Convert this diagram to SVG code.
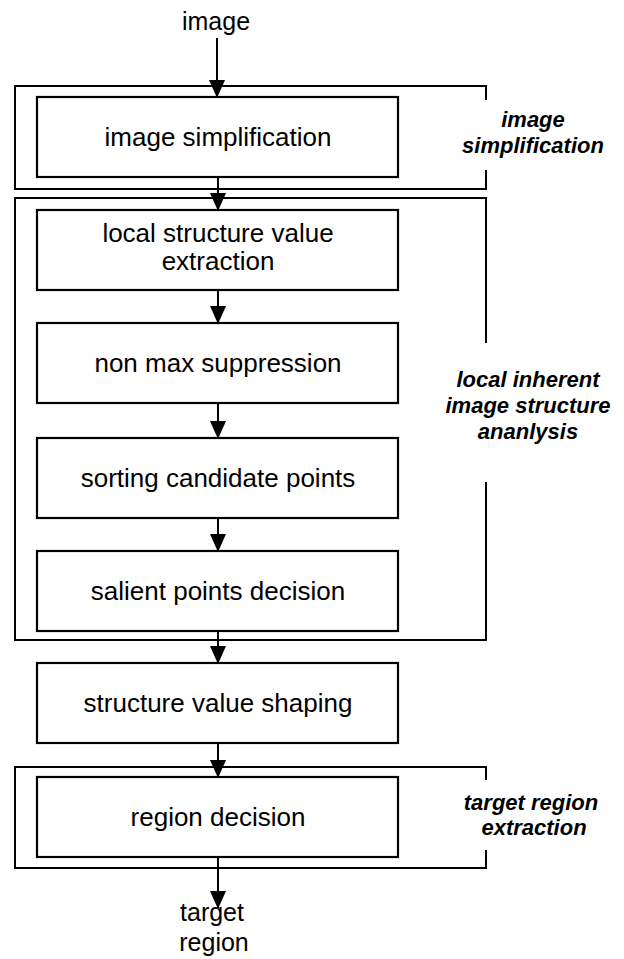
<svg xmlns="http://www.w3.org/2000/svg" width="624" height="959" viewBox="0 0 624 959">
  <style>
    .box { fill: none; stroke: #000; stroke-width: 2.2; }
    .frame { fill: none; stroke: #000; stroke-width: 2; }
    .lbl { font-family: "Liberation Sans", Arial, sans-serif; font-size: 26px; fill: #000; text-anchor: middle; }
    .term { font-family: "Liberation Sans", Arial, sans-serif; font-size: 25px; fill: #000; text-anchor: middle; }
    .grp { font-family: "Liberation Sans", Arial, sans-serif; font-size: 22px; font-weight: bold; font-style: italic; fill: #000; text-anchor: middle; }
    .edge { fill: none; stroke: #000; stroke-width: 2; }
  </style>
  <defs>
    <marker id="arrow" markerUnits="userSpaceOnUse" markerWidth="18" markerHeight="20" refX="17" refY="8" orient="auto">
      <path d="M0,0 L18,8 L0,16 Z" fill="#000"/>
    </marker>
  </defs>

  <rect width="624" height="959" fill="#fff"/>

  <!-- stage frames, open on the right where the stage name sits -->
  <g id="frame-simplification">
    <path class="frame" d="M486,100 V86 H15 V189 H486 V170"/>
    <text class="grp" x="533" y="127">image</text>
    <text class="grp" x="533" y="153">simplification</text>
  </g>
  <g id="frame-analysis">
    <path class="frame" d="M486,343 V198 H15 V640 H486 V482"/>
    <text class="grp" x="528" y="387">local inherent</text>
    <text class="grp" x="528" y="413">image structure</text>
    <text class="grp" x="528" y="439">ananlysis</text>
  </g>
  <g id="frame-extraction">
    <path class="frame" d="M486,780 V767 H15 V868 H486 V850"/>
    <text class="grp" x="531" y="810">target region</text>
    <text class="grp" x="534" y="835">extraction</text>
  </g>

  <!-- input / output terminals -->
  <g id="input">
    <text class="term" x="216" y="30">image</text>
  </g>
  <g id="output">
    <text class="term" x="212" y="921">target</text>
    <text class="term" x="214" y="951">region</text>
  </g>

  <!-- process steps -->
  <g id="step-simplification">
    <rect class="box" x="37" y="97" width="361" height="80"/>
    <text class="lbl" x="218" y="146">image simplification</text>
  </g>
  <g id="step-local-structure">
    <rect class="box" x="37" y="210" width="361" height="80"/>
    <text class="lbl" x="218" y="242">local structure value</text>
    <text class="lbl" x="218" y="270">extraction</text>
  </g>
  <g id="step-nms">
    <rect class="box" x="37" y="323" width="361" height="80"/>
    <text class="lbl" x="218" y="372">non max suppression</text>
  </g>
  <g id="step-sorting">
    <rect class="box" x="37" y="438" width="361" height="80"/>
    <text class="lbl" x="218" y="487">sorting candidate points</text>
  </g>
  <g id="step-salient">
    <rect class="box" x="37" y="551" width="361" height="80"/>
    <text class="lbl" x="218" y="600">salient points decision</text>
  </g>
  <g id="step-shaping">
    <rect class="box" x="37" y="663" width="361" height="80"/>
    <text class="lbl" x="218" y="712">structure value shaping</text>
  </g>
  <g id="step-region">
    <rect class="box" x="37" y="777" width="361" height="80"/>
    <text class="lbl" x="218" y="826">region decision</text>
  </g>

  <!-- connectors -->
  <g id="connectors">
    <line class="edge" x1="217" y1="38" x2="217" y2="97" marker-end="url(#arrow)"/>
    <line class="edge" x1="218" y1="177" x2="218" y2="210" marker-end="url(#arrow)"/>
    <line class="edge" x1="218" y1="290" x2="218" y2="323" marker-end="url(#arrow)"/>
    <line class="edge" x1="218" y1="403" x2="218" y2="438" marker-end="url(#arrow)"/>
    <line class="edge" x1="218" y1="518" x2="218" y2="551" marker-end="url(#arrow)"/>
    <line class="edge" x1="218" y1="631" x2="218" y2="663" marker-end="url(#arrow)"/>
    <line class="edge" x1="218" y1="743" x2="218" y2="777" marker-end="url(#arrow)"/>
    <line class="edge" x1="218" y1="857" x2="218" y2="908" marker-end="url(#arrow)"/>
  </g>
</svg>
